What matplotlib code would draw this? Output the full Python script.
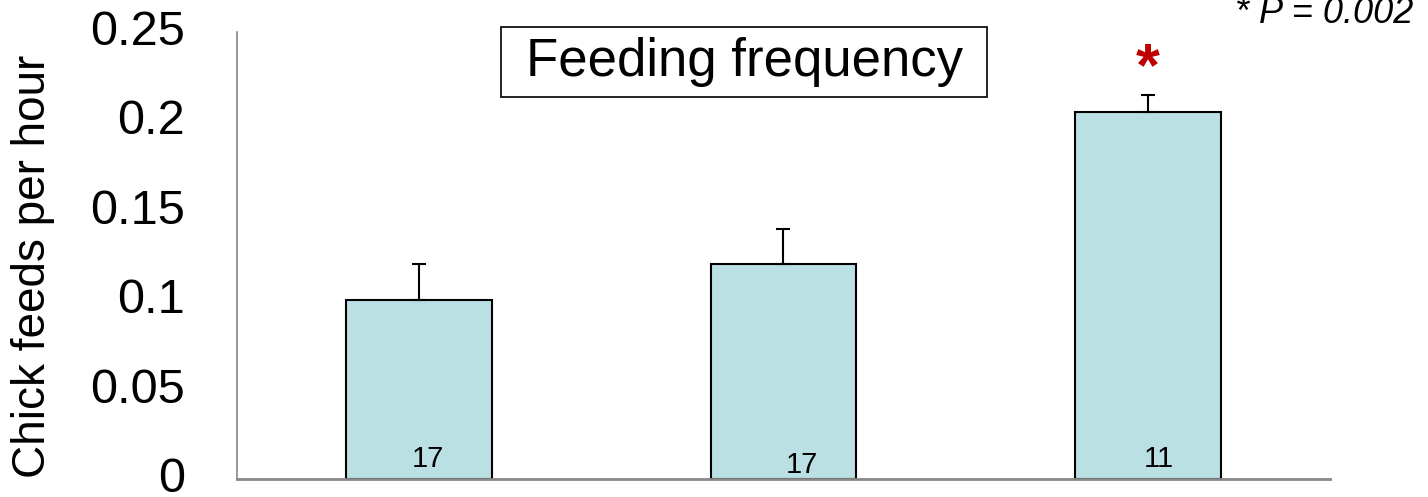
"""Feeding frequency bar chart: chick feeds per hour for three groups."""
import matplotlib
matplotlib.use("Agg")
import matplotlib.pyplot as plt
from matplotlib.patches import Rectangle
from matplotlib.transforms import blended_transform_factory

plt.rcParams["font.family"] = ["Liberation Sans", "DejaVu Sans"]

# data
groups = ["A", "B", "C"]
feeds_per_hour = [0.100, 0.120, 0.205]
sem = [0.020, 0.020, 0.010]
n_chicks = [17, 17, 11]
yticks = [0, 0.05, 0.1, 0.15, 0.2, 0.25]
ytick_labels = ["0", "0.05", "0.1", "0.15", "0.2", "0.25"]

BAR_COLOR = "#bae0e3"
GREY = "#888888"
W, H = 1428, 497

fig = plt.figure(figsize=(W / 100, H / 100), dpi=100)
ax = fig.add_axes([237 / W, 1 - 479 / H, (1330 - 237) / W, (479 - 32) / H])

x = list(range(len(groups)))
ax.bar(x, feeds_per_hour, width=0.4, color=BAR_COLOR, edgecolor="black", lw=1.5,
       zorder=2)
ax.errorbar(x, feeds_per_hour, yerr=[[0] * len(sem), sem], fmt="none",
            ecolor="black", elinewidth=1.5, capsize=5, capthick=1.5, zorder=3)

# sample sizes at the foot of each bar (slightly off-centre, as in the original)
offsets = [0.025, 0.05, 0.03]
bases = [0.0067, 0.0033, 0.0067]
for xi, n, dx, b in zip(x, n_chicks, offsets, bases):
    ax.text(xi + dx, b, str(n), ha="center", va="baseline", fontsize=21)

# significance star above the third bar
ax.text(x[2], feeds_per_hour[2] + sem[2] + 0.014, "*", ha="center", va="center",
        fontsize=44, fontweight="bold", color="#c00000")

ax.set_xlim(-0.5, 2.5)
ax.set_ylim(0, 0.25)
ax.set_xticks([])
ax.set_yticks(yticks)
ax.set_yticklabels([])
ax.tick_params(axis="y", length=0)
# tick labels drawn by hand so they sit a touch higher, like the original
lab_tf = blended_transform_factory(ax.transAxes, ax.transData)
for v, s in zip(yticks, ytick_labels):
    ax.text(-52 / (1330 - 237), v + 0.0025, s, transform=lab_tf, ha="right",
            va="center_baseline", fontsize=35, clip_on=False)
for side in ("top", "right"):
    ax.spines[side].set_visible(False)
ax.spines["left"].set_color(GREY)
ax.spines["left"].set_linewidth(1.2)
ax.spines["bottom"].set_color(GREY)
ax.spines["bottom"].set_linewidth(2)

fig.text(33 / W, 1 - 266 / H, "Chick feeds per hour", rotation=90,
         ha="center", va="center", fontsize=33)

# boxed panel title
fig.add_artist(Rectangle((501 / W, 1 - 97 / H), (987 - 501) / W, 70 / H,
                         transform=fig.transFigure, fc="white", ec="black", lw=1.2))
fig.text(744 / W, 1 - 62 / H, "Feeding frequency", ha="center", va="center",
         fontsize=38)

fig.text(1413 / W, 1 - 23 / H, "* P = 0.002", ha="right", va="baseline",
         fontsize=26, style="italic")

fig.savefig("out.png", dpi=100)
